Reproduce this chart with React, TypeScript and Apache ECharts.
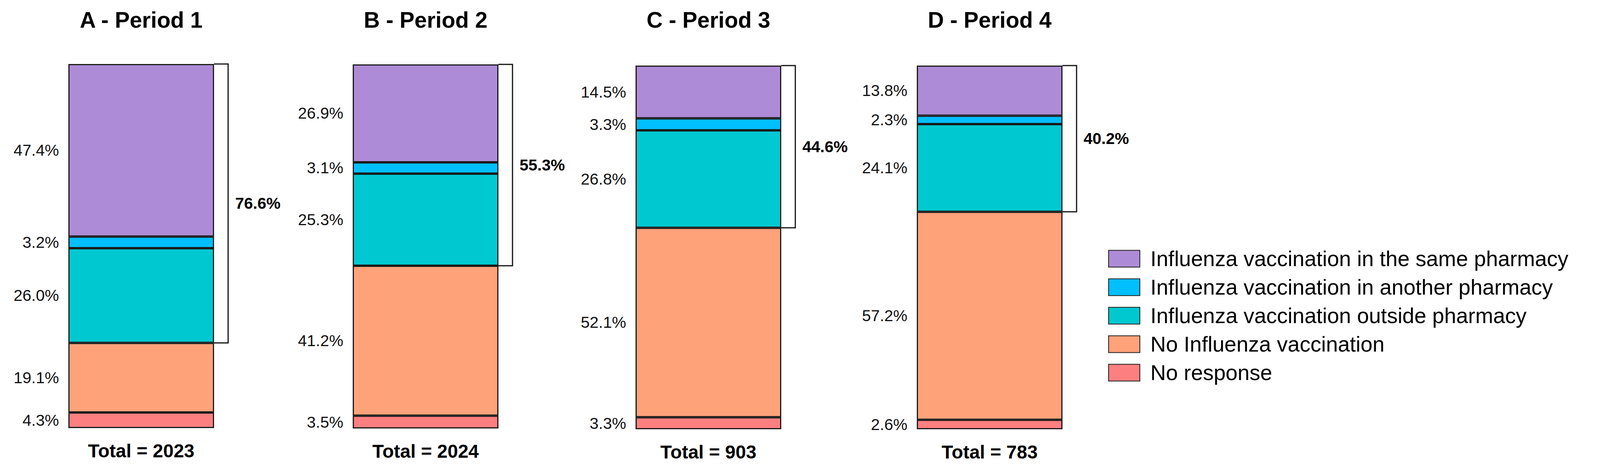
import React, { useEffect, useRef } from "react";
import * as echarts from "echarts";

const periods = ["A - Period 1", "B - Period 2", "C - Period 3", "D - Period 4"];
const totals = [2023, 2024, 903, 783];
const categories = [
  "Influenza vaccination in the same pharmacy",
  "Influenza vaccination in another pharmacy",
  "Influenza vaccination outside pharmacy",
  "No Influenza vaccination",
  "No response",
];
const samePharmacy = [47.4, 26.9, 14.5, 13.8];
const anotherPharmacy = [3.2, 3.1, 3.3, 2.3];
const outsidePharmacy = [26.0, 25.3, 26.8, 24.1];
const noVaccination = [19.1, 41.2, 52.1, 57.2];
const noResponse = [4.3, 3.5, 3.3, 2.6];
const vaccinatedTotal = [76.6, 55.3, 44.6, 40.2];

const colors = ["#AE8BD6", "#00BFFE", "#00C8D0", "#FEA27A", "#FE7F80"];

const NARROW = "'Liberation Sans Narrow', 'Arial Narrow', 'Liberation Sans', Arial, sans-serif";
const SANS = "'Liberation Sans', Arial, sans-serif";

const grids = [
  { left: 175, top: 164, width: 373, height: 933 },
  { left: 903, top: 165, width: 373, height: 933 },
  { left: 1627, top: 168, width: 373, height: 932 },
  { left: 2347, top: 168, width: 373, height: 932 },
];

export default function App() {
  const ref = useRef<HTMLDivElement>(null);
  useEffect(() => {
    if (!ref.current) return;
    const chart = echarts.init(ref.current, undefined, { renderer: "svg" });
    const stackOrder = [
      { name: categories[4], data: noResponse, color: colors[4] },
      { name: categories[3], data: noVaccination, color: colors[3] },
      { name: categories[2], data: outsidePharmacy, color: colors[2] },
      { name: categories[1], data: anotherPharmacy, color: colors[1] },
      { name: categories[0], data: samePharmacy, color: colors[0] },
    ];
    const series: any[] = [];
    periods.forEach((_, i) => {
      stackOrder.forEach((s) => {
        series.push({
          type: "bar",
          name: s.name,
          xAxisIndex: i,
          yAxisIndex: i,
          stack: "p" + i,
          barWidth: "100%",
          data: [s.data[i]],
          itemStyle: { color: s.color, borderColor: "#1a1a1a", borderWidth: 3 },
          label: {
            show: true,
            position: "left",
            distance: 24,
            formatter: (p: any) => Number(p.value).toFixed(1) + "%",
            fontSize: 41,
            fontFamily: NARROW,
            color: "#111",
          },
        });
      });
      series.push({
        type: "custom",
        name: "bracket",
        xAxisIndex: i,
        yAxisIndex: i,
        data: [[0, 100, vaccinatedTotal[i]]],
        z: 5,
        renderItem: (params: any, api: any) => {
          const v = api.value(2);
          const top = api.coord([0, 100]);
          const bot = api.coord([0, 100 - v]);
          const half = api.size([1, 0])[0] / 2;
          const x0 = top[0] + half;
          const x1 = x0 + 36;
          return {
            type: "group",
            children: [
              {
                type: "polyline",
                shape: { points: [[x0, top[1]], [x1, top[1]], [x1, bot[1]], [x0, bot[1]]] },
                style: { stroke: "#111", lineWidth: 3, fill: "none" },
              },
              {
                type: "text",
                x: x1 + 18,
                y: (top[1] + bot[1]) / 2,
                style: {
                  text: v.toFixed(1) + "%",
                  fontSize: 41,
                  fontWeight: "bold",
                  fontFamily: NARROW,
                  fill: "#000",
                  align: "left",
                  verticalAlign: "middle",
                },
              },
            ],
          };
        },
      });
    });

    const option: any = {
      animation: false,
      backgroundColor: "#fff",
      title: periods.map((t, i) => ({
        text: t,
        left: grids[i].left + grids[i].width / 2,
        top: 22,
        textAlign: "center",
        padding: 0,
        textStyle: { fontSize: 57, fontWeight: "bold", fontFamily: NARROW, color: "#000" },
      })),
      legend: {
        orient: "vertical",
        left: 2837,
        top: 634,
        padding: 0,
        itemWidth: 80,
        itemHeight: 43,
        itemGap: 15,
        icon: "rect",
        data: categories,
        selectedMode: false,
        textStyle: {
          fontSize: 55,
          lineHeight: 58,
          fontFamily: SANS,
          color: "#000",
          padding: [0, 0, 0, 22],
        },
      },
      grid: grids.map((g) => ({ ...g })),
      xAxis: periods.map((_, i) => ({
        type: "category",
        gridIndex: i,
        data: ["Total = " + totals[i]],
        axisLine: { show: false },
        axisTick: { show: false },
        axisLabel: {
          margin: 34,
          fontSize: 48,
          fontWeight: "bold",
          fontFamily: NARROW,
          color: "#000",
        },
      })),
      yAxis: periods.map((_, i) => ({
        type: "value",
        gridIndex: i,
        min: 0,
        max: 100,
        show: false,
        splitLine: { show: false },
      })),
      series,
    };
    chart.setOption(option);
    return () => chart.dispose();
  }, []);
  return (
    <div
      ref={ref}
      style={{ position: "fixed", left: 0, top: 0, width: "4112px", height: "1207px", background: "#fff" }}
    />
  );
}
